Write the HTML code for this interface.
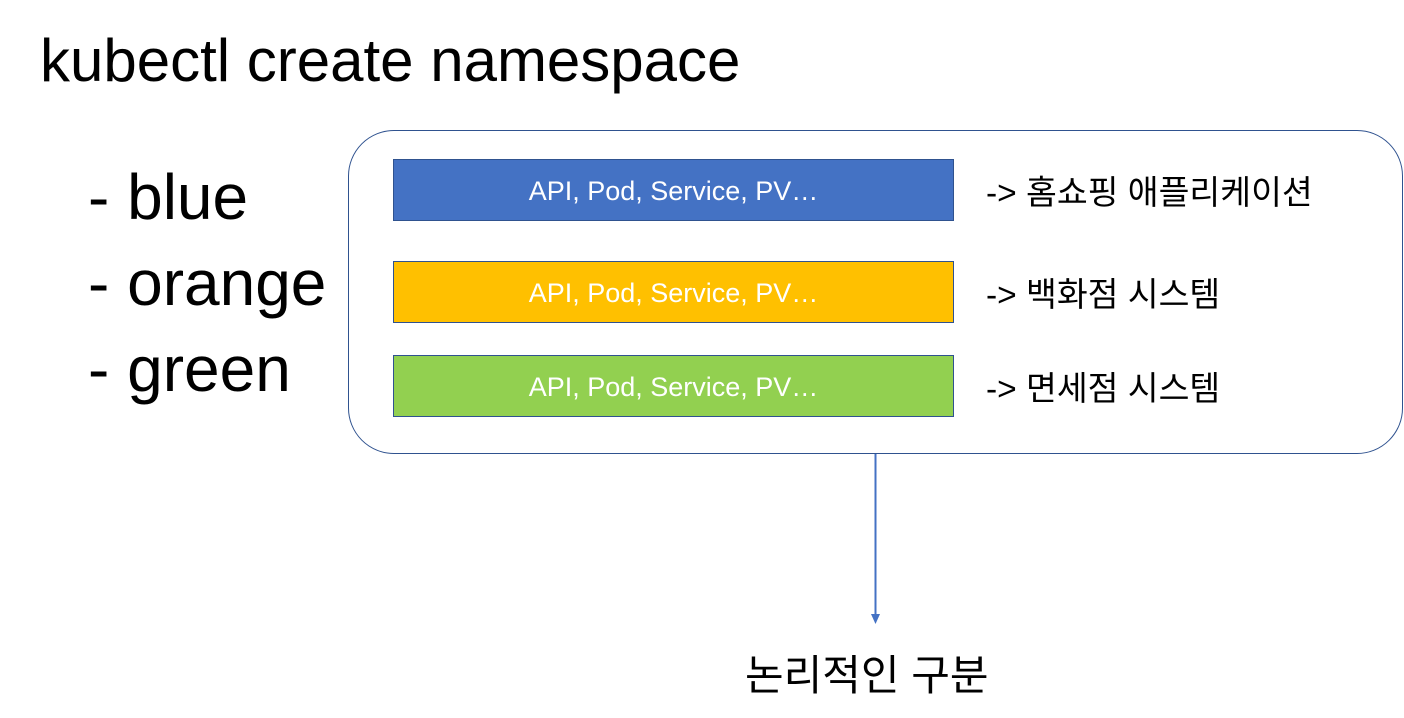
<!DOCTYPE html>
<html><head><meta charset="utf-8"><style>
body{margin:0;width:1404px;height:718px;background:#fff;position:relative;overflow:hidden;font-family:"Liberation Sans","Noto Sans CJK KR",sans-serif}
.a{position:absolute;white-space:nowrap}
.bar{position:absolute;left:393px;width:561px;height:62px;border:1px solid #2f528f;box-sizing:border-box;color:#fff;font-size:27px;text-align:center;line-height:62px}
.k{font-size:33.5px;color:#000}
</style></head><body>
<div class="a" style="left:40px;top:26px;font-size:60px;line-height:70px">kubectl create namespace</div>
<div class="a" style="left:88px;top:154px;font-size:64px;line-height:86px">- blue<br>- orange<br>- green</div>
<div class="a" style="left:348px;top:130px;width:1055px;height:324px;border:1px solid #2f528f;border-radius:46px;box-sizing:border-box"></div>
<div class="bar" style="top:159px;background:#4472c4">API, Pod, Service, PV…</div>
<div class="bar" style="top:261px;background:#ffc000">API, Pod, Service, PV…</div>
<div class="bar" style="top:355px;background:#92d050">API, Pod, Service, PV…</div>
<div class="a k" style="left:986px;top:165px">-&gt; 홈쇼핑 애플리케이션</div>
<div class="a k" style="left:986px;top:267px">-&gt; 백화점 시스템</div>
<div class="a k" style="left:986px;top:361px">-&gt; 면세점 시스템</div>
<svg class="a" style="left:0;top:0" width="1404" height="718">
<line x1="875.5" y1="454" x2="875.5" y2="615" stroke="#4472c4" stroke-width="2"/>
<polygon points="871,614 880,614 875.5,624" fill="#4472c4"/>
</svg>
<div class="a" style="left:745px;top:642px;font-size:42px">논리적인 구분</div>
</body></html>
